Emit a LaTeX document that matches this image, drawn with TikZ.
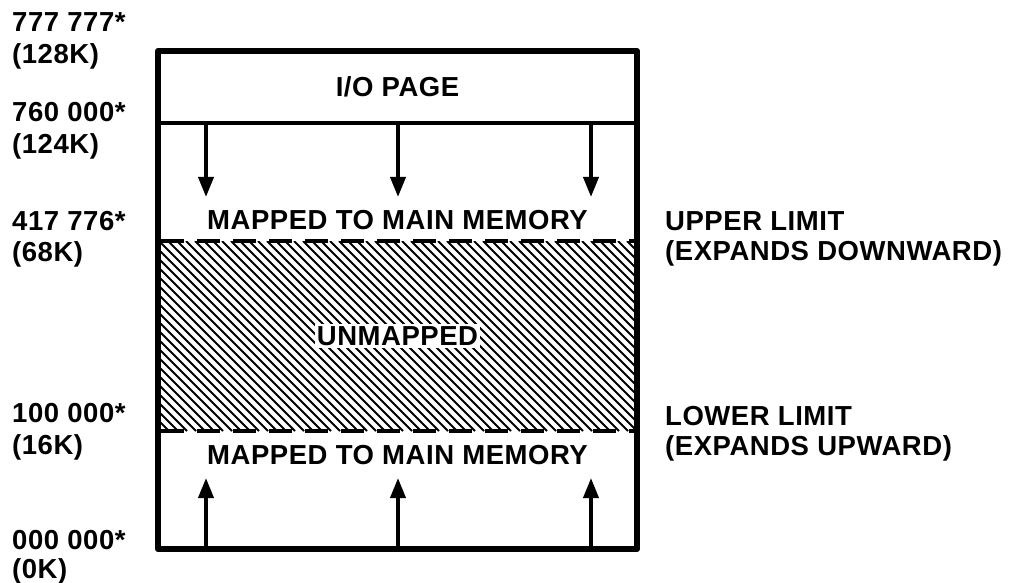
\documentclass[tikz,border=0pt]{standalone}
\usepackage{fontspec}
\setmainfont{Liberation Sans}
\newfontfamily\lblfont[LetterSpace=2.0]{Liberation Sans}
\usetikzlibrary{arrows.meta}
\begin{document}
\begin{tikzpicture}[x=1pt,y=-1pt,
  lbl/.style={font=\lblfont\fontsize{27.5}{30}\selectfont\bfseries, inner sep=0pt, text height=19.7pt, text depth=0pt},
  lleft/.style={lbl, anchor=west},
  frame/.style={line width=6pt, line join=round},
  sep/.style={line width=4pt},
  limit/.style={line width=4.5pt, dash pattern=on 23pt off 13pt},
  hatch/.style={line width=1.8pt},
  arr/.style={line width=3.8pt, -{Triangle[width=15pt,length=20pt]}}]
\useasboundingbox (0,0) rectangle (1010,583);
% frame corners
\coordinate (tl) at (158,51);
\coordinate (br) at (637,549);
\coordinate (iol) at (158,123);
\coordinate (ior) at (637,123);
\coordinate (ul) at (161,241);
\coordinate (ur) at (634,241);
\coordinate (ll) at (161,431);
\coordinate (lr) at (634,431);
% hatching
\begin{scope}
  \clip (161,241) rectangle (634,431);
  \foreach \t in {-30,-21,...,640} {
    \draw[hatch] (\t,241) -- (\t+190,431);
  }
\end{scope}
\draw[frame] (tl) rectangle (br);
\draw[sep] (iol) -- (ior);
\draw[limit] (ul) -- (ur);
\draw[limit] (ll) -- (lr);
% arrows
\foreach \x/\n in {206/a,398/b,591/c} {
  \coordinate (d\n s) at (\x,123);
  \coordinate (d\n e) at (\x,197);
  \coordinate (u\n s) at (\x,549);
  \coordinate (u\n e) at (\x,478);
  \draw[arr] (d\n s) -- (d\n e);
  \draw[arr] (u\n s) -- (u\n e);
}
% box texts
\node[lbl] (io) at (397.5,87) {I/O PAGE};
\node[lbl] (mu) at (397.5,220) {MAPPED TO MAIN MEMORY};
\node[lbl, fill=white, inner xsep=2pt, inner ysep=2pt] (um) at (397.5,336) {UNMAPPED};
\node[lbl] (ml) at (397.5,455) {MAPPED TO MAIN MEMORY};
% left addresses
\node[lleft] (a1) at (12,22) {777 777*};
\node[lleft] (a1k) at (12,54) {(128K)};
\node[lleft] (a2) at (12,112) {760 000*};
\node[lleft] (a2k) at (12,144) {(124K)};
\node[lleft] (a3) at (12,221) {417 776*};
\node[lleft] (a3k) at (12,252) {(68K)};
\node[lleft] (a4) at (12,413) {100 000*};
\node[lleft] (a4k) at (12,445) {(16K)};
\node[lleft] (a5) at (12,540) {000 000*};
\node[lleft] (a5k) at (12,569) {(0K)};
% right labels
\node[lleft] (r1) at (665,221) {UPPER LIMIT};
\node[lleft] (r1b) at (665,251) {(EXPANDS DOWNWARD)};
\node[lleft] (r2) at (665,416) {LOWER LIMIT};
\node[lleft] (r2b) at (665,446) {(EXPANDS UPWARD)};
\end{tikzpicture}
\end{document}
